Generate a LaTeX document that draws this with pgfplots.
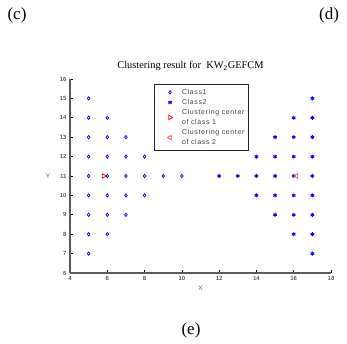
\documentclass[border=0pt]{standalone}
\usepackage{pgfplots}
\pgfplotsset{compat=1.18}
\usepackage{fontspec}
\setmainfont{Liberation Serif}
\setsansfont{Liberation Sans}
\definecolor{axgray}{RGB}{90,90,90}
\begin{document}
\begin{tikzpicture}
\useasboundingbox (0pt,0pt) rectangle (347pt,344pt);
\node[font=\fontsize{17}{17}\selectfont] at (17pt,329pt) {(c)};
\node[font=\fontsize{17}{17}\selectfont] at (329pt,329pt) {(d)};
\node[font=\fontsize{17}{17}\selectfont] at (191pt,14pt) {(e)};
\node[font=\fontsize{10.4}{11}\selectfont] at (190.5pt,278pt) {Clustering result for~ KW\textsubscript{2}GEFCM};
\begin{axis}[
  at={(70pt,71pt)}, anchor=south west,
  scale only axis, width=261pt, height=194pt,
  xmin=4, xmax=18, ymin=6, ymax=16,
  xtick={4,6,...,18}, ytick={6,7,...,16},
  axis x line*=bottom, axis y line*=left,
  axis line style={axgray, line width=1.2pt},
  tick align=inside, major tick length=2.5pt,
  tick style={black, line width=0.6pt},
  ticklabel style={font=\sffamily\bfseries\fontsize{6}{6}\selectfont, text=axgray},
  /pgf/number format/assume math mode=true,
  xlabel={X}, ylabel={Y},
  label style={font=\sffamily\fontsize{6.5}{7}\selectfont, text=axgray},
  xlabel style={at={(axis description cs:0.5,-0.08)}, anchor=center},
  ylabel style={at={(axis description cs:-0.084,0.5)}, anchor=center, rotate=-90},
  legend style={at={(axis description cs:0.322,0.974)}, anchor=north west,
    draw=black!85, line width=1pt,
    font=\sffamily\fontsize{7}{10}\selectfont\addfontfeature{LetterSpace=9},
    text=black!75,
    cells={align=left}, inner xsep=2.5pt, inner ysep=2.5pt, row sep=-0.5pt},
  legend image code/.code={\path (0pt,0pt) (22pt,0pt); \draw[#1] plot coordinates {(12.5pt,0pt)};},
  legend cell align=left,
  clip=false,
]
\addplot[only marks, mark=diamond, mark size=1.7pt, blue, mark options={line width=0.7pt}] coordinates {
(5,7)(5,8)(5,9)(5,10)(5,11)(5,12)(5,13)(5,14)(5,15)
(6,8)(6,9)(6,10)(6,11)(6,12)(6,13)(6,14)
(7,9)(7,10)(7,11)(7,12)(7,13)
(8,10)(8,11)(8,12)
(9,11)(10,11)
};
\addlegendentry{Class1}
\addplot[only marks, mark=asterisk, mark size=2pt, blue, mark options={line width=0.9pt}] coordinates {
(12,11)(13,11)
(14,10)(14,11)(14,12)
(15,9)(15,10)(15,11)(15,12)(15,13)
(16,8)(16,9)(16,10)(16,11)(16,12)(16,13)(16,14)
(17,7)(17,8)(17,9)(17,10)(17,11)(17,12)(17,13)(17,14)(17,15)
};
\addlegendentry{Class2}
\addplot[only marks, mark=triangle, mark size=2.6pt, red, mark options={rotate=-90, line width=0.7pt}] coordinates {(5.8,11)};
\addlegendentry{Clustering\ center\\of class 1}
\addplot[only marks, mark=triangle, mark size=2.6pt, red!70, mark options={rotate=90, line width=0.7pt}] coordinates {(16.15,11)};
\addlegendentry{Clustering\ center\\of class 2}
\end{axis}
\end{tikzpicture}
\end{document}
